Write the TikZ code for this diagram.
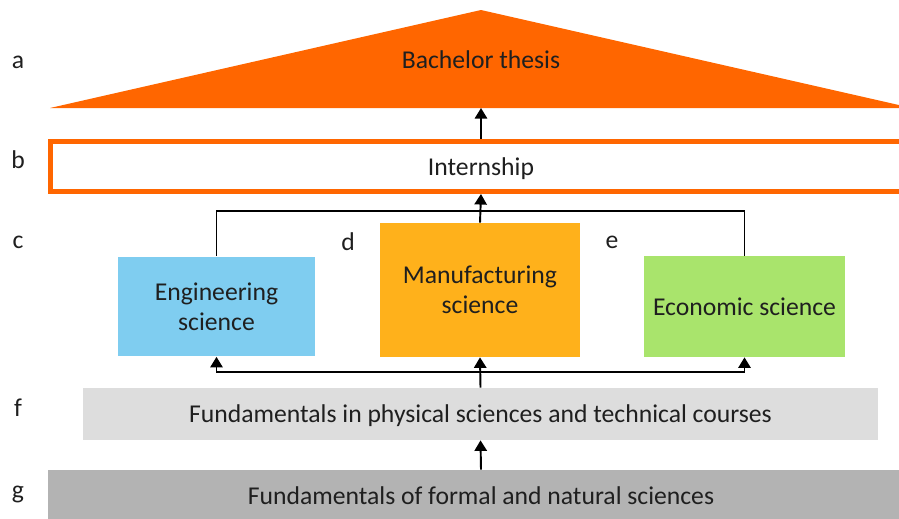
\documentclass[tikz,border=0pt]{standalone}
\usepackage{fontspec}
\setmainfont{Carlito}
\usetikzlibrary{positioning}
\usetikzlibrary{arrows.meta}

\definecolor{thesisorange}{HTML}{FF6600}
\definecolor{engblue}{HTML}{7FCDF0}
\definecolor{manuyellow}{HTML}{FFB11B}
\definecolor{ecogreen}{HTML}{A9E46C}
\definecolor{physgray}{HTML}{DDDDDD}
\definecolor{formalgray}{HTML}{B3B3B3}

\begin{document}
\begin{tikzpicture}[x=0.02cm, y=-0.02cm, font=\fontsize{14.6}{17}\selectfont,
  box/.style={inner sep=0pt, align=center, text depth=0pt, text=black!88},
  link/.style={draw=black, line width=1.1pt, -{Triangle[length=6pt,width=7pt]}},
  plain/.style={draw=black, line width=1.1pt}]

 \useasboundingbox (0,0) rectangle (899,518);
 \clip (0,0) rectangle (899,518);

 % level a: thesis
 \fill[thesisorange] (50,108) -- (481,10) -- (912,108) -- cycle;
 \node[box] (thesis) at (481,60) {Bachelor thesis};
 \coordinate (thesisbase) at (481,108);

 % level b: internship
 \node[box, draw=thesisorange, line width=2.85pt, fill=white,
       minimum width=17.22cm, minimum height=1cm] (intern) at (481,166.5) {Internship};

 % level c: the three sciences
 \node[box, fill=engblue, minimum width=3.96cm, minimum height=2cm] (eng) at (216.5,306.5) {Engineering\\science};
 \node[box, fill=manuyellow, minimum width=4cm, minimum height=2.68cm] (manu) at (480,290) {Manufacturing\\science};
 \node[box, fill=ecogreen, minimum width=4.02cm, minimum height=2.02cm] (eco) at (744.5,306.5) {Economic science};

 % level f, g: fundamentals
 \node[box, fill=physgray, minimum width=15.9cm, minimum height=1.04cm] (phys) at (480.5,414) {Fundamentals in physical sciences and technical courses};
 \node[box, fill=formalgray, minimum width=17.32cm, minimum height=1.04cm] (formal) at (481,496) {Fundamentals of formal and natural sciences};

 % lines
 \coordinate (top) at (481,211);
 \coordinate (bus) at (481,372);
 \draw[plain] (eng.north) |- (top) -| (eco.north);
 \draw[link] (manu.north) -- (intern.south);
 \draw[link] (intern.north) -- (thesisbase);
 \draw[link] (phys.north) -- (manu.south);
 \draw[link] (bus) -| (eng.south);
 \draw[link] (bus) -| (eco.south);
 \draw[link] (formal.north) -- (phys.south);

 % side labels
 \foreach \l/\y in {a/62, b/160, c/242, f/408, g/492}
   \node[box] (lab\l) at (18,\y) {\l};
 \node[box] (labd) at (348,242) {d};
 \node[box] (labe) at (612,242) {e};

\end{tikzpicture}
\end{document}
